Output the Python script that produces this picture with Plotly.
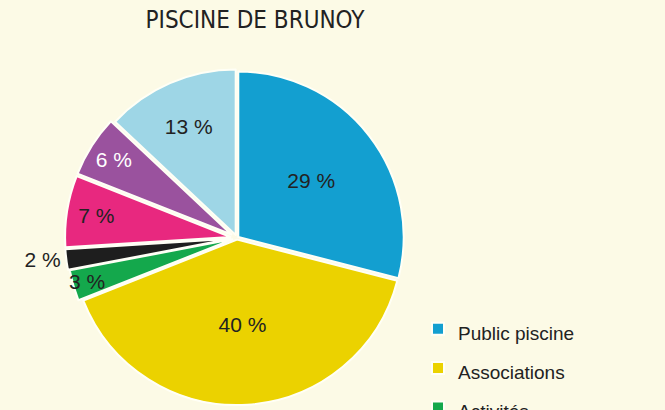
import plotly.graph_objects as go

# slices, clockwise from 12 o'clock
labels = ["Public piscine", "Associations", "Activités", "Scolaires",
          "Clubs", "Centres de loisirs", "Autres"]
values = [29, 40, 3, 2, 7, 6, 13]
colors = ["#139FD0", "#EBD200", "#14A84C", "#1E1E1E", "#E8287F", "#9A529E", "#9ED6E6"]
text_colors = ["#222222", "#222222", "#222222", "#222222", "#222222", "#FFFFFF", "#222222"]
text_pos = ["inside", "inside", "inside", "outside", "inside", "inside", "inside"]
pulls = [0.01, 0.01, 0.03, 0.04, 0.04, 0.04, 0.02]

bg = "#FCFAE6"

# legend rows are spaced by the legend font; the visible label stays smaller
legend_labels = ['<span style="font-size:19px">%s</span>' % l for l in labels]

fig = go.Figure()
fig.add_trace(go.Pie(
    labels=legend_labels,
    values=values,
    sort=False,
    direction="clockwise",
    rotation=0,
    pull=pulls,
    marker=dict(colors=colors, line=dict(color="#FFFFF6", width=2)),
    texttemplate="%{value} %",
    textposition=text_pos,
    insidetextorientation="horizontal",
    textfont=dict(family="Liberation Sans, Arial, sans-serif", size=21, color=text_colors),
    hoverinfo="label+percent",
    domain=dict(x=[(237 - 172) / 665, (237 + 172) / 665], y=[0, 344 / 410]),
))

fig.update_layout(
    width=665, height=410,
    paper_bgcolor=bg, plot_bgcolor=bg,
    margin=dict(l=0, r=0, t=0, b=0, autoexpand=False),
    title=dict(text="PISCINE DE BRUNOY", x=255 / 665, xanchor="center", y=1 - 20 / 410, yanchor="middle",
               font=dict(family="Liberation Sans Narrow, DejaVu Sans Condensed, sans-serif", size=24,
                         color="#222222")),
    uniformtext=dict(minsize=21, mode="show"),
    showlegend=True,
    legend=dict(x=418 / 665, xanchor="left", y=1 - 304 / 410, yanchor="top",
                bgcolor="rgba(0,0,0,0)",
                font=dict(family="Liberation Sans, Arial, sans-serif", size=28, color="#222222"),
                maxheight=1000),
)

fig.write_html("out.html", config={"displayModeBar": False},
               post_script="document.body.style.margin = '0';")
